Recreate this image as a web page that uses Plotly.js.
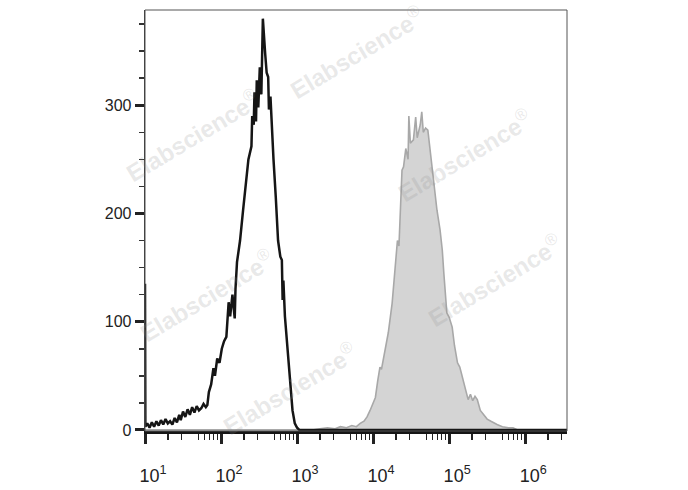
<!DOCTYPE html>
<html><head><meta charset="utf-8">
<script src="https://cdn.plot.ly/plotly-3.0.1.min.js"></script>
<style>body{margin:0;background:#fff}#chart{width:688px;height:490px}</style>
</head><body><div id="chart"></div>
<script>
// Black (unfilled) histogram: log10 of intensity, count
const blackLog = [1.00,1.005,1.03,1.06,1.09,1.12,1.15,1.18,1.21,1.24,1.27,1.30,1.33,1.36,1.39,1.42,1.45,1.47,1.50,1.53,1.56,1.59,1.62,1.65,1.68,1.71,1.74,1.77,1.80,1.82,1.84,1.87,1.90,1.92,1.95,1.98,2.01,2.04,2.07,2.10,2.12,2.15,2.18,2.19,2.21,2.25,2.29,2.32,2.36,2.40,2.41,2.43,2.44,2.46,2.47,2.49,2.51,2.53,2.55,2.58,2.60,2.62,2.63,2.65,2.67,2.69,2.72,2.75,2.78,2.80,2.81,2.82,2.84,2.86,2.88,2.91,2.94,2.97,3.00,3.03,3.10,3.50,4.00,5.00,6.00,6.55];
const blackCount = [135,3,6,2,7,3,8,4,9,5,10,6,8,5,11,7,14,9,17,12,19,14,21,16,22,18,20,24,21,23,35,42,57,50,66,62,75,82,86,118,105,125,103,130,155,175,203,224,250,262,290,282,312,285,323,298,335,310,380,348,330,326,296,308,277,250,215,175,160,157,120,138,105,86,70,40,18,6,2,0,0,0,0,0,0,0];

// Grey (filled) histogram: log10 of intensity, count
const greyLog = [1.00,2.00,3.00,3.20,3.30,3.40,3.50,3.57,3.65,3.72,3.78,3.83,3.88,3.92,3.96,4.00,4.03,4.06,4.09,4.11,4.13,4.17,4.20,4.25,4.28,4.32,4.34,4.36,4.38,4.40,4.43,4.46,4.47,4.49,4.53,4.56,4.58,4.62,4.64,4.66,4.69,4.72,4.75,4.78,4.81,4.84,4.88,4.91,4.93,4.95,4.97,5.00,5.04,5.07,5.11,5.14,5.18,5.21,5.25,5.28,5.31,5.34,5.37,5.41,5.45,5.50,5.55,5.60,5.63,5.70,5.78,5.84,5.90,6.55];
const greyCount = [0,0,0,0,1,2,1,3,2,4,3,6,8,12,18,24,30,45,58,56,63,78,90,117,140,175,170,200,240,243,260,250,290,265,268,289,270,282,294,275,279,277,258,243,220,203,185,166,145,126,108,104,95,78,62,58,46,40,28,33,27,31,28,18,14,10,8,6,5,3,2,2,0,0];

const majorTicks = [1e1,1e2,1e3,1e4,1e5,1e6];
const majorLabels = ['10<sup>1</sup>','10<sup>2</sup>','10<sup>3</sup>','10<sup>4</sup>','10<sup>5</sup>','10<sup>6</sup>'];
const minorMult = [2,3,5,6,7,8,9];
const yMajor = [0,100,200,300];
const yMinor = [25,50,75,125,150,175,225,250,275,325,350,375];
const watermark = '<b>Elabscience</b><sup>®</sup>';
const wmPos = [[0.502,0.90],[0.114,0.703],[0.758,0.656],[0.147,0.323],[0.829,0.359],[0.344,0.102]];

const toLin = a => a.map(v => Math.pow(10, v));
const minorTicks = [];
majorTicks.forEach(m => minorMult.forEach(k => minorTicks.push(m*k)));

const traces = [
  {x: toLin(greyLog), y: greyCount, type:'scatter', mode:'lines', fill:'tozeroy',
   fillcolor:'#d4d4d4', line:{color:'#a8a8a8', width:1.6}, hoverinfo:'skip'},
  {x: toLin(blackLog), y: blackCount, type:'scatter', mode:'lines',
   line:{color:'#151515', width:2.5}, hoverinfo:'skip'}
];

const layout = {
  width:688, height:490, showlegend:false,
  paper_bgcolor:'#fff', plot_bgcolor:'#fff',
  margin:{l:145, r:121, t:10, b:59},
  font:{family:'Liberation Sans, Arial, sans-serif', color:'#222'},
  xaxis:{type:'log', range:[1,6.55], showgrid:false, zeroline:false,
    showline:true, linecolor:'#151515', linewidth:3,
    tickmode:'array', tickvals:majorTicks, ticktext:majorLabels,
    ticks:'outside', ticklen:10, tickwidth:3, tickcolor:'#222',
    ticklabelstandoff:16, ticklabelshift:8, tickfont:{size:18, color:'#222'},
    minor:{tickmode:'array', tickvals:minorTicks, ticks:'outside', ticklen:6, tickwidth:1.3, tickcolor:'#222', showgrid:false}},
  yaxis:{range:[-1,388], showgrid:false, zeroline:false,
    showline:true, linecolor:'#333', linewidth:1.3,
    tickmode:'array', tickvals:yMajor, ticks:'outside', ticklen:9, tickwidth:3, tickcolor:'#222',
    tickfont:{size:16, color:'#222'},
    minor:{tickmode:'array', tickvals:yMinor, ticks:'outside', ticklen:5, tickwidth:1.5, tickcolor:'#333', showgrid:false}},
  shapes:[{type:'rect', xref:'paper', yref:'paper', x0:0, x1:1, y0:0, y1:1, line:{color:'#555', width:1}, layer:'above'}],
  annotations: wmPos.map(p => ({xref:'paper', yref:'paper', x:p[0], y:p[1], xanchor:'center', yanchor:'middle', text:watermark,
    showarrow:false, textangle:-31, font:{size:24, family:'Liberation Sans, Arial, sans-serif', color:'rgba(140,140,140,0.2)'}}))
};
Plotly.newPlot('chart', traces, layout, {displayModeBar:false, staticPlot:true});
</script></body></html>
